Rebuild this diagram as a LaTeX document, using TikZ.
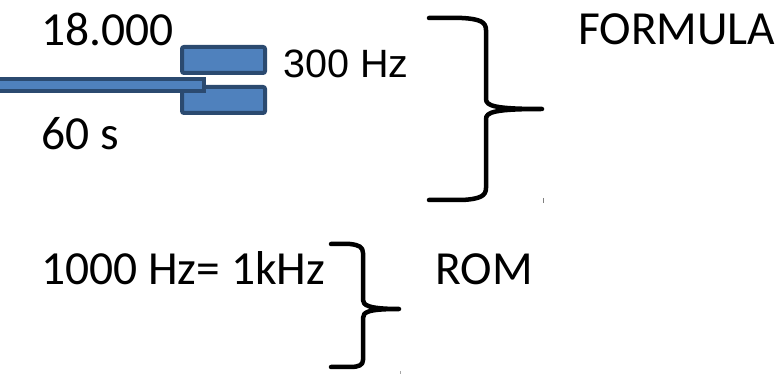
\documentclass[tikz,border=0pt]{standalone}
\usepackage{fontspec}
\setmainfont{Carlito}
\newfontfamily\arialfont{Liberation Sans}
\definecolor{boxblue}{HTML}{4F81BD}
\definecolor{boxedge}{HTML}{2B4A70}
\begin{document}
\begin{tikzpicture}[x=1pt,y=-1pt,
  lbl/.style={anchor=base west,inner sep=0pt,font=\fontsize{47.5}{52}\selectfont},
  brace/.style={line width=4.5pt,line cap=round,line join=round},
  plate/.style={draw=boxedge,fill=boxblue,line width=4pt,rounded corners=2pt}]
\useasboundingbox (0,0) rectangle (780,374);
% plates and rod
\node[plate,minimum width=83pt,minimum height=26pt,inner sep=0pt] (up) at (223.5,60) {};
\node[plate,minimum width=83pt,minimum height=26pt,inner sep=0pt] (lo) at (223.5,100) {};
\draw[draw=boxedge,fill=boxblue,line width=4pt] (-6,79) rectangle (204,91);
% texts
\node[lbl] (t1) at (41,46) {18.000};
\node[lbl,font=\arialfont\fontsize{39.5}{44}\selectfont] (t2) at (283,78) {300 Hz};
\node[lbl] (t3) at (41,150) {60 s};
\node[lbl] (t4) at (578,45) {FORMULA};
\node[lbl] (t5) at (41,285) {1000 Hz= 1kHz};
\node[lbl] (t6) at (435,285) {ROM};
% brace 1
\draw[brace] (429,18) -- (462,18) .. controls (480,19) and (486,22) .. (486,30)
  -- (486,99) .. controls (486,106) and (495,109) .. (542,109)
  .. controls (495,109) and (486,112) .. (486,119)
  -- (486,188) .. controls (486,196) and (480,199) .. (462,200) -- (429,200);
% brace 2
\draw[brace] (331,244) -- (350,244) .. controls (359,245) and (363,247) .. (363,253)
  -- (363,300) .. controls (363,305) and (368,309) .. (399,309)
  .. controls (368,309) and (363,312) .. (363,318)
  -- (363,360) .. controls (363,365) and (359,367) .. (350,367) -- (331,367);
% small marks
\draw[gray,line width=1pt] (543,198) -- (543,203);
\draw[gray!70,line width=1pt] (400,371) -- (400,374);
\end{tikzpicture}
\end{document}
